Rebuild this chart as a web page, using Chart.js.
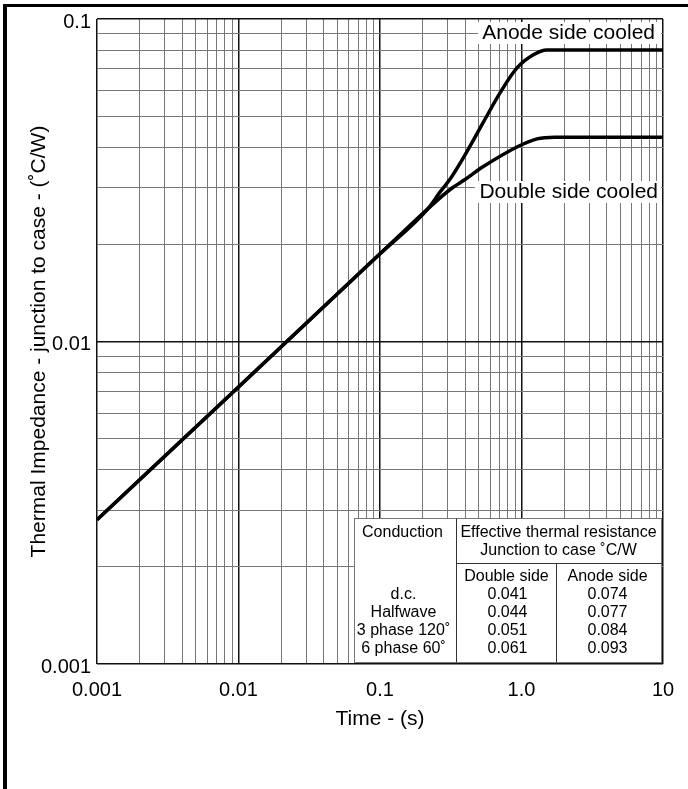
<!DOCTYPE html>
<html>
<head>
<meta charset="utf-8">
<title>Transient thermal impedance</title>
<script src="https://cdn.jsdelivr.net/npm/chart.js@4.4.1/dist/chart.umd.min.js"></script>
<style>
  html, body { margin: 0; padding: 0; background: #fff; }
  #wrap { position: relative; width: 688px; height: 789px; overflow: hidden; }
  #frame {
    position: absolute; left: 3px; top: 4px; right: 0; bottom: 0;
    border-top: 3px solid #000; border-left: 4px solid #000;
    pointer-events: none;
  }
</style>
</head>
<body>
<div id="wrap">
  <canvas id="zthChart" width="688" height="789"></canvas>
  <div id="frame"></div>
</div>
<script>
// Curves (time in s, Zth in °C/W)
const timeAnode = [0.001, 0.01, 0.1, 0.218, 0.266, 0.313, 0.399, 0.534, 0.705, 0.929, 1.205, 1.514, 10];
const zthAnode  = [0.0028, 0.00723, 0.0187, 0.0258, 0.0291, 0.0319, 0.0379, 0.0476, 0.059, 0.0705, 0.0773, 0.0801, 0.0801];

const timeDouble = [0.001, 0.01, 0.1, 0.218, 0.313, 0.399, 0.534, 0.929, 1.287, 1.72, 10];
const zthDouble  = [0.0028, 0.00723, 0.0187, 0.0258, 0.0296, 0.0318, 0.0348, 0.0401, 0.0425, 0.043, 0.043];

// Axis grid (log decades) and labels
const decadesX = [0.001, 0.01, 0.1, 1];
const decadesY = [0.001, 0.01];
const gridSteps = [1, 2, 3, 4, 5, 6, 7, 8, 9];
const xLabelValues = [0.001, 0.01, 0.1, 1, 10];
const xLabelText = ['0.001', '0.01', '0.1', '1.0', '10'];
const yLabelValues = [0.001, 0.01, 0.1];
const yLabelText = ['0.001', '0.01', '0.1'];

// Effective thermal resistance table
const conductionTypes = ['d.c.', 'Halfwave', '3 phase 120˚', '6 phase 60˚'];
const rthDouble = ['0.041', '0.044', '0.051', '0.061'];
const rthAnode = ['0.074', '0.077', '0.084', '0.093'];

const FONT = "'Liberation Sans', Arial, Helvetica, sans-serif";

function buildGrid(decades, last) {
    return decades.flatMap(d => gridSteps.map(s => +(d * s).toPrecision(3))).concat([last]);
}
const gridX = buildGrid(decadesX, 10);
const gridY = buildGrid(decadesY, 0.1);

function isDecade(v) {
    const l = Math.log10(v);
    return Math.abs(l - Math.round(l)) < 1e-6;
}

function labelFor(values, texts, v) {
    const i = values.findIndex(x => Math.abs(x - v) / x < 1e-6);
    return i >= 0 ? texts[i] : '';
}

function toPoints(xs, ys) {
    return xs.map((x, i) => ({ x: x, y: ys[i] }));
}

// white-backed curve labels
const curveLabels = {
    id: 'curveLabels',
    beforeDatasetsDraw(chart) {
        const { ctx, chartArea } = chart;
        ctx.save();
        ctx.font = '21px ' + FONT;
        ctx.textAlign = 'right';
        ctx.textBaseline = 'middle';

        ctx.fillStyle = '#fff';
        ctx.fillRect(chartArea.right - 185, chartArea.top + 3, 183, 22);
        ctx.fillRect(chartArea.right - 188, chartArea.top + 162, 186, 22);

        ctx.fillStyle = '#000';
        ctx.fillText('Anode side cooled', chartArea.right - 8, chartArea.top + 14);
        ctx.fillText('Double side cooled', chartArea.right - 5, chartArea.top + 173);
        ctx.restore();
    }
};

const resistanceTable = {
    id: 'resistanceTable',
    afterDraw(chart) {
        const { ctx, chartArea } = chart;
        const w = 307, h = 144;
        const x0 = Math.round(chartArea.right - w - 2) + 0.5;
        const y0 = Math.round(chartArea.bottom - h - 2) + 0.5;

        ctx.save();
        ctx.fillStyle = '#fff';
        ctx.fillRect(x0, y0, w, h);

        ctx.lineWidth = 1;
        ctx.strokeStyle = '#777';
        ctx.strokeRect(x0, y0, w, h);

        ctx.strokeStyle = '#333';
        ctx.beginPath();
        ctx.moveTo(x0 + 102, y0); ctx.lineTo(x0 + 102, y0 + h);
        ctx.moveTo(x0 + 102, y0 + 45); ctx.lineTo(x0 + w, y0 + 45);
        ctx.moveTo(x0 + 202, y0 + 45); ctx.lineTo(x0 + 202, y0 + h);
        ctx.stroke();

        ctx.fillStyle = '#000';
        ctx.font = '16px ' + FONT;
        ctx.textAlign = 'center';
        ctx.textBaseline = 'middle';
        ctx.fillText('Conduction', x0 + 48, y0 + 14);
        ctx.fillText('Effective thermal resistance', x0 + 204, y0 + 14);
        ctx.fillText('Junction to case ˚C/W', x0 + 204, y0 + 32);
        ctx.fillText('Double side', x0 + 152, y0 + 58);
        ctx.fillText('Anode side', x0 + 253, y0 + 58);

        conductionTypes.forEach((name, i) => {
            const y = y0 + 76 + i * 18;
            ctx.fillText(name, x0 + 49, y);
            ctx.fillText(rthDouble[i], x0 + 153, y);
            ctx.fillText(rthAnode[i], x0 + 253, y);
        });
        ctx.restore();
    }
};

const gridColor = c => isDecade(c.tick.value) ? '#111' : '#777';
const gridWidth = c => isDecade(c.tick.value) ? 1.5 : 1;

Chart.defaults.font.family = FONT;
Chart.defaults.color = '#000';

const ctx = document.getElementById('zthChart').getContext('2d');
new Chart(ctx, {
    type: 'line',
    data: {
        datasets: [{
            label: 'Anode side cooled',
            data: toPoints(timeAnode, zthAnode),
            borderColor: '#000',
            borderWidth: 3.5,
            pointRadius: 0,
            fill: false,
            cubicInterpolationMode: 'monotone'
        }, {
            label: 'Double side cooled',
            data: toPoints(timeDouble, zthDouble),
            borderColor: '#000',
            borderWidth: 3.5,
            pointRadius: 0,
            fill: false,
            cubicInterpolationMode: 'monotone'
        }]
    },
    options: {
        responsive: false,
        animation: false,
        layout: { padding: { top: 19, right: 25, left: 0, bottom: 0 } },
        plugins: {
            legend: { display: false },
            tooltip: { enabled: false }
        },
        scales: {
            x: {
                type: 'logarithmic',
                min: 0.001,
                max: 10,
                afterBuildTicks: axis => { axis.ticks = gridX.map(v => ({ value: v })); },
                afterFit: axis => {
                    axis.height = 125;
                    axis.paddingLeft = 0;
                    axis.paddingRight = 0;
                },
                grid: { color: gridColor, lineWidth: gridWidth, drawTicks: false },
                border: { display: false },
                ticks: {
                    autoSkip: false,
                    maxRotation: 0,
                    minRotation: 0,
                    padding: 14,
                    font: { size: 20 },
                    callback: v => labelFor(xLabelValues, xLabelText, v)
                },
                title: {
                    display: true,
                    text: 'Time - (s)',
                    font: { size: 21 },
                    padding: { top: 0, bottom: 57 }
                }
            },
            y: {
                type: 'logarithmic',
                min: 0.001,
                max: 0.1,
                afterBuildTicks: axis => { axis.ticks = gridY.map(v => ({ value: v })); },
                afterFit: axis => {
                    axis.width = 97;
                    axis.paddingTop = 0;
                    axis.paddingBottom = 0;
                },
                grid: { color: gridColor, lineWidth: gridWidth, drawTicks: false },
                border: { display: false },
                ticks: {
                    autoSkip: false,
                    padding: 6,
                    labelOffset: 3,
                    font: { size: 20 },
                    callback: v => labelFor(yLabelValues, yLabelText, v)
                },
                title: {
                    display: true,
                    text: 'Thermal Impedance - junction to case - (˚C/W)',
                    font: { size: 21 },
                    padding: { top: 27, bottom: 0 }
                }
            }
        }
    },
    plugins: [curveLabels, resistanceTable]
});
</script>
</body>
</html>
